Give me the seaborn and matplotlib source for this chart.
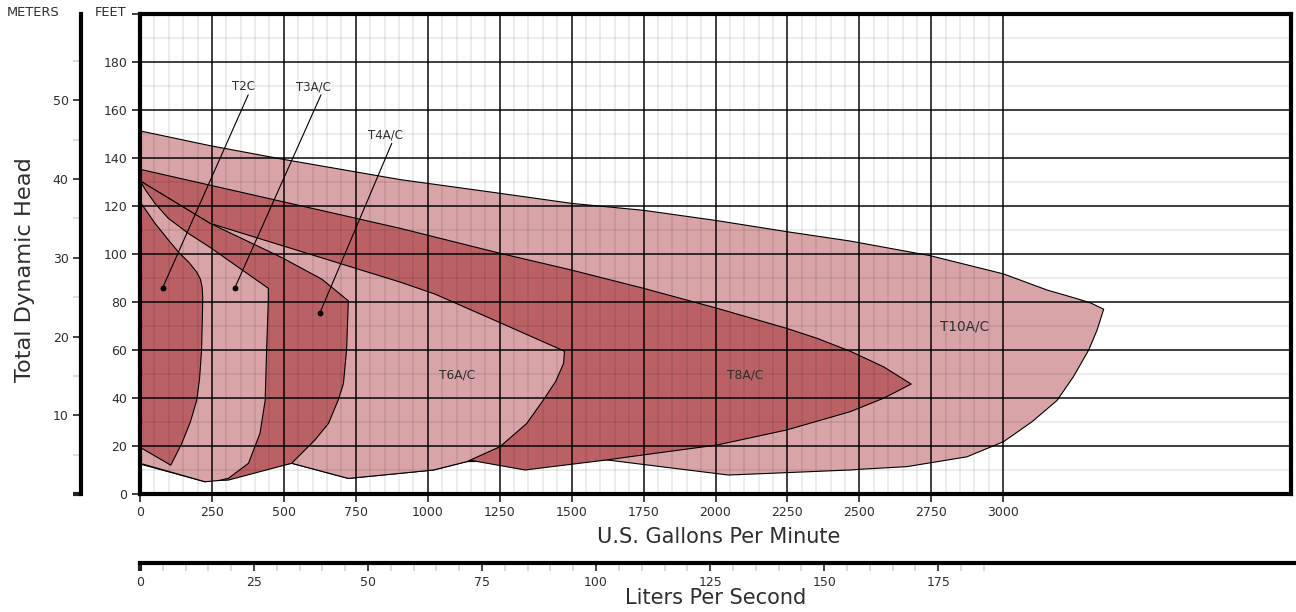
import numpy as np
import pandas as pd
import seaborn as sns
import matplotlib.pyplot as plt
from matplotlib.ticker import FixedLocator

# pump curve envelopes, U.S. gpm vs feet of head
t10_gpm = [0, 249, 500, 904, 1250, 1500, 1750, 2000, 2248, 2468, 2746, 3001, 3152, 3250, 3302, 3349,
           3326, 3297, 3244, 3187, 3100, 3001, 2874, 2665, 2503, 2468, 2045, 1622, 1136, 1020, 724, 527, 226, 0]
t10_ft = [151.3, 145, 139.4, 131, 125.3, 121.1, 118.2, 114, 109.3, 105.4, 99.3, 91.7, 85, 81.6, 79.7, 77,
          68.3, 60, 48.9, 39, 30.1, 21.8, 15.5, 11.4, 10.3, 10, 7.9, 14.2, 13.5, 10, 6.5, 12.8, 5.1, 12.5]

t8_gpm = [0, 904, 1251, 1500, 1750, 2005, 2248, 2352, 2468, 2584, 2680,
          2584, 2468, 2248, 2005, 1750, 1622, 1338, 1141, 1000, 0]
t8_ft = [135.3, 110.7, 100.3, 93.3, 85.7, 77.4, 69, 64.9, 59.5, 53, 45.8,
         39.9, 34.3, 26.7, 20.4, 16.3, 14.2, 10, 14.2, 16, 16]

t6_gpm = [0, 243, 904, 1025, 1251, 1475, 1472, 1445, 1402, 1344, 1251, 1136, 1020, 904, 724, 527, 300, 0]
t6_ft = [130.5, 112.8, 88.3, 83.3, 71.4, 59.5, 54.4, 47, 39.2, 29.4, 19.7, 13.5, 10, 8.6, 6.5, 12.8, 14, 14]

t4_gpm = [0, 243, 493, 632, 724, 718, 707, 689, 655, 608, 527, 307, 272, 226, 0]
t4_ft = [130.5, 112.8, 98.5, 89.5, 80.5, 60, 46, 39.2, 29.4, 22.5, 12.8, 5.8, 5.6, 6.5, 14]

t3_gpm = [0, 20, 52, 98, 168, 243, 446, 446, 440, 435, 417, 377, 307, 272, 226, 0]
t3_ft = [130.5, 126.5, 121.1, 114.9, 108.6, 102.8, 85.7, 80.8, 60, 39, 25.3, 12.8, 6.5, 5.6, 5.1, 12.8]

t2_gpm = [0, 52, 99, 136, 170, 197, 210, 216, 218, 217, 214, 207, 197, 175, 145, 107, 0]
t2_ft = [121.8, 112.8, 105.8, 100.5, 96.5, 92.5, 89.5, 86, 82, 75, 60, 48, 39, 30, 21, 12, 19.5]

# callouts: label position, leader start, leader end (dot)
callout_names = ["T2C", "T3A/C", "T4A/C"]
callout_text_xy = [(361, 169.6), (601, 169.6), (852, 149.6)]
callout_start_xy = [(376, 166.3), (629, 166.3), (875, 146.1)]
callout_dot_xy = [(79, 86), (330, 86), (625, 75.4)]

inner_names = ["T6A/C", "T8A/C", "T10A/C"]
inner_xy = [(1102, 49.6), (2103, 49.6), (2864, 69.6)]

gpm_ticks = list(range(0, 3001, 250))
feet_ticks = list(range(0, 181, 20))
meter_ticks = [0, 10, 20, 30, 40, 50]
meter_labels = ["", "10", "20", "30", "40", "50"]
lps_ticks = [0, 25, 50, 75, 100, 125, 150, 175]

LIGHT = "#d9a4a7"
DARK = "#bb6165"
TXT = "#2e2e2e"

sns.set_theme(style="white")
plt.rcParams['font.family'] = ['DejaVu Sans']

W, H = 1296, 612
def box(l, t, r, b):
    return [l / W, 1 - b / H, (r - l) / W, (b - t) / H]

fig = plt.figure(figsize=(12.96, 6.12), dpi=100)
ax = fig.add_axes(box(140, 14, 1291, 494))

shapes = [(t10_gpm, t10_ft, LIGHT), (t8_gpm, t8_ft, DARK), (t6_gpm, t6_ft, LIGHT),
          (t4_gpm, t4_ft, DARK), (t3_gpm, t3_ft, LIGHT), (t2_gpm, t2_ft, DARK)]
for i, (gx, fy, col) in enumerate(shapes):
    ax.fill(gx, fy, color=col, lw=0, zorder=1 + i * 0.01)
    df = pd.DataFrame({"gpm": gx + [gx[0]], "ft": fy + [fy[0]]})
    sns.lineplot(data=df, x="gpm", y="ft", sort=False, estimator=None,
                 color="black", lw=0.8, ax=ax, zorder=1.005 + i * 0.01)

for name, (tx, ty), (sx, sy), (dx, dy) in zip(callout_names, callout_text_xy,
                                               callout_start_xy, callout_dot_xy):
    ax.text(tx, ty, name, ha="center", va="center", fontsize=8.5, color=TXT, zorder=5)
    ax.plot([sx, dx], [sy, dy], color="black", lw=0.8, zorder=5)
dots = pd.DataFrame(callout_dot_xy, columns=["gpm", "ft"])
sns.scatterplot(data=dots, x="gpm", y="ft", color="black", s=18, linewidth=0, ax=ax, zorder=6)

for name, (tx, ty) in zip(inner_names, inner_xy):
    ax.text(tx, ty, name, ha="center", va="center", color=TXT,
            fontsize=9.8 if name == "T10A/C" else 8.8, zorder=5)

ax.set_xlim(0, 4000)
ax.set_ylim(0, 200)
ax.xaxis.set_major_locator(FixedLocator(gpm_ticks))
ax.xaxis.set_minor_locator(FixedLocator(list(range(0, 3001, 50))))
ax.yaxis.set_major_locator(FixedLocator(feet_ticks + [200]))
ax.yaxis.set_minor_locator(FixedLocator(list(range(10, 200, 20))))
ax.set_yticklabels([str(v) for v in feet_ticks] + [""])
ax.set_axisbelow(False)
ax.grid(which="minor", color="black", alpha=0.09, lw=1.2)
ax.grid(which="major", color="black", alpha=0.82, lw=1.3)
ax.tick_params(which="major", length=6, width=1.2, color="#222", labelsize=9,
               labelcolor=TXT, direction="out", bottom=True, left=True, pad=3)
ax.tick_params(which="minor", length=0)
for sp in ax.spines.values():
    sp.set_visible(True)
    sp.set_color("black")
    sp.set_linewidth(3)
    sp.set_zorder(10)
ax.set_xlabel("")
ax.set_ylabel("")

# meters scale
axm = fig.add_axes(box(81, 14, 82, 494))
axm.patch.set_visible(False)
axm.set_ylim(0, 200 * 0.3048)
axm.set_xticks([])
axm.yaxis.set_major_locator(FixedLocator(meter_ticks))
axm.set_yticklabels(meter_labels)
axm.yaxis.set_minor_locator(FixedLocator([5, 15, 25, 35, 45, 55]))
axm.tick_params(axis="y", which="major", length=6, width=1.2, color="#222",
                labelsize=9, labelcolor=TXT, left=True, pad=3)
axm.tick_params(axis="y", which="minor", length=6, width=1.2, color="#d6d6d6", left=True)
axm.yaxis.get_major_ticks()[0].tick1line.set_markeredgewidth(3)
axm.yaxis.get_major_ticks()[0].tick1line.set_color("black")
for k in ["top", "right", "bottom"]:
    axm.spines[k].set_visible(False)
axm.spines["left"].set_linewidth(3)
axm.spines["left"].set_color("black")

# liters per second scale
axl = fig.add_axes([140 / W, 1 - 563 / H, 1156 / W, 0.0001])
axl.patch.set_visible(False)
axl.set_xlim(0, 4000 / 15.8503 * 1156 / 1151)
axl.set_yticks([])
axl.xaxis.set_major_locator(FixedLocator(lps_ticks))
axl.xaxis.set_minor_locator(FixedLocator(list(range(5, 186, 5))))
axl.tick_params(axis="x", which="major", length=6, width=1.2, color="#222",
                labelsize=9, labelcolor=TXT, bottom=True, pad=3)
axl.tick_params(axis="x", which="minor", length=6, width=1.2, color="#d6d6d6", bottom=True)
axl.xaxis.get_major_ticks()[0].tick1line.set_markeredgewidth(3)
axl.xaxis.get_major_ticks()[0].tick1line.set_color("black")
for k in ["top", "right", "left"]:
    axl.spines[k].set_visible(False)
axl.spines["bottom"].set_linewidth(3)
axl.spines["bottom"].set_color("black")

# axis titles
fig.text(719 / W, 1 - 537 / H, "U.S. Gallons Per Minute", ha="center", va="center",
         fontsize=15, color=TXT)
fig.text(716 / W, 1 - 598 / H, "Liters Per Second", ha="center", va="center",
         fontsize=15, color=TXT)
fig.text(25 / W, 1 - 270 / H, "Total Dynamic Head", rotation=90, ha="center", va="center",
         fontsize=16.2, color=TXT)
fig.text(7 / W, 1 - 12 / H, "METERS", ha="left", va="center", fontsize=9.4, color=TXT)
fig.text(95 / W, 1 - 12 / H, "FEET", ha="left", va="center", fontsize=9.4, color=TXT)

fig.savefig("out.png", dpi=100)
